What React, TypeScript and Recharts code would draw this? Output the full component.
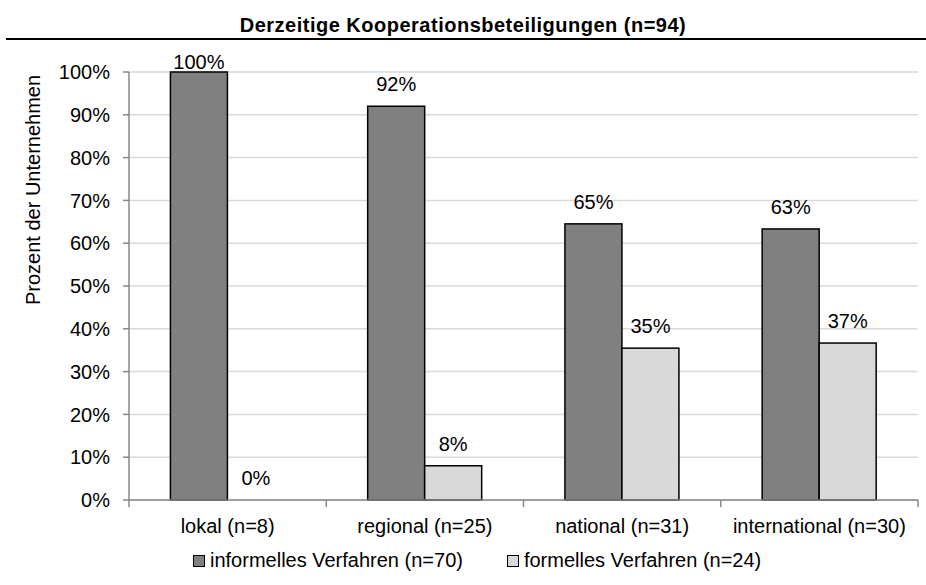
import React from 'react';
import { BarChart, Bar, XAxis, YAxis, CartesianGrid } from 'recharts';

const categories = ['lokal (n=8)', 'regional (n=25)', 'national (n=31)', 'international (n=30)'];
const informell = [100, 92, 64.52, 63.33];
const formell = [0, 8, 35.48, 36.67];
const yTicks = [0, 10, 20, 30, 40, 50, 60, 70, 80, 90, 100];
const seriesNames = ['informelles Verfahren (n=70)', 'formelles Verfahren (n=24)'];

const data = categories.map((name, i) => ({ name, informell: informell[i], formell: formell[i] }));

const FONT = '"Liberation Sans", Arial, sans-serif';
const PLOT_TOP = 72;
const DARK = '#808080';
const LIGHT = '#d9d9d9';

// bar + its value label in one shape, so a 0 value still gets "0%"
function BarWithLabel(props: any) {
  const { x, y, width, height, fill, value } = props;
  const v = Array.isArray(value) ? value[1] - value[0] : value;
  const cy = Math.max(y - 22, PLOT_TOP - 10);
  return (
    <g>
      {height > 0 && (
        <rect x={x} y={y} width={width} height={height} fill={fill} stroke="#000" strokeWidth={1.5} />
      )}
      <text x={x + width / 2} y={cy} dy="0.35em" textAnchor="middle" fontSize={20} fontFamily={FONT} fill="#000">
        {Math.round(v)}%
      </text>
    </g>
  );
}

function CategoryTick(props: any) {
  const { x, y, payload, index, visibleTicksCount } = props;
  const half = payload?.offset || 98.6;
  return (
    <g>
      <line x1={x - half} x2={x - half} y1={y} y2={y + 7} stroke="#878787" strokeWidth={1.5} />
      {index === visibleTicksCount - 1 && (
        <line x1={x + half} x2={x + half} y1={y} y2={y + 7} stroke="#878787" strokeWidth={1.5} />
      )}
      <text x={x} y={y + 26} dy="0.35em" textAnchor="middle" fontSize={20} fontFamily={FONT} fill="#000">
        {payload.value}
      </text>
    </g>
  );
}

function YTitle() {
  const x = 33;
  const y = 190;
  return (
    <text x={x} y={y} transform={`rotate(-90, ${x}, ${y})`} textAnchor="middle" dy="0.35em" fontSize={20} fontFamily={FONT} fill="#000">
      Prozent der Unternehmen
    </text>
  );
}

export default function App() {
  return (
    <div style={{ position: 'absolute', left: 0, top: 0, width: 926, height: 585, background: '#fff', fontFamily: FONT }}>
      <div style={{ position: 'absolute', top: 14, left: 0, width: 926, textAlign: 'center', fontSize: 20, fontWeight: 'bold', letterSpacing: 0.5 }}>
        Derzeitige Kooperationsbeteiligungen (n=94)
      </div>
      <div style={{ position: 'absolute', top: 38, left: 6, right: 0, height: 0, borderTop: '2.5px solid #000' }} />
      <BarChart
        width={926}
        height={585}
        data={data}
        margin={{ top: PLOT_TOP, right: 8, left: 69, bottom: 45 }}
        barCategoryGap="21%"
        barGap={0}
      >
        <CartesianGrid vertical={false} stroke="#d9d9d9" strokeWidth={1.5} />
        <XAxis
          dataKey="name"
          height={40}
          tickSize={0}
          tickMargin={0}
          tickLine={false}
          axisLine={{ stroke: '#878787', strokeWidth: 1.5 }}
          tick={<CategoryTick />}
          interval={0}
        />
        <YAxis
          width={60}
          domain={[0, 100]}
          ticks={yTicks}
          tickFormatter={(v) => `${v}%`}
          tickSize={6}
          tickMargin={13}
          tick={{ fontSize: 20, fontFamily: FONT, fill: '#000' }}
          axisLine={{ stroke: '#878787', strokeWidth: 1.5 }}
          tickLine={{ stroke: '#878787', strokeWidth: 1.5 }}
          label={<YTitle />}
        />
        <Bar dataKey="informell" name={seriesNames[0]} fill={DARK} shape={<BarWithLabel />} isAnimationActive={false} />
        <Bar dataKey="formell" name={seriesNames[1]} fill={LIGHT} shape={<BarWithLabel />} isAnimationActive={false} />
      </BarChart>
      <div style={{ position: 'absolute', top: 549, left: 193, display: 'flex', alignItems: 'center', fontSize: 20 }}>
        {seriesNames.map((n, i) => (
          <div key={n} style={{ display: 'flex', alignItems: 'center', marginRight: 44 }}>
            <span style={{ display: 'inline-block', width: 10, height: 10, background: i === 0 ? DARK : LIGHT, border: '1.5px solid #000', marginRight: 5 }} />
            <span>{n}</span>
          </div>
        ))}
      </div>
    </div>
  );
}
